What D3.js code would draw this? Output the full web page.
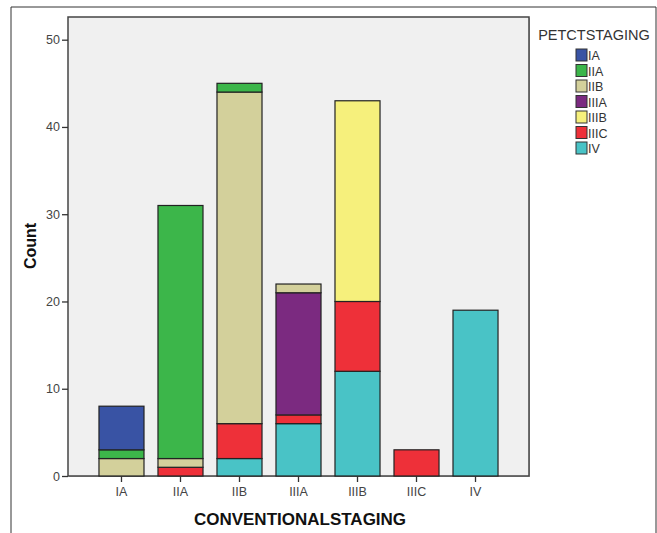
<!DOCTYPE html>
<html><head><meta charset="utf-8">
<script src="https://cdn.jsdelivr.net/npm/d3@7"></script>
<style>body{margin:0;background:#fff}svg{display:block}text{font-family:Arial,"Liberation Sans",sans-serif}</style>
</head><body><svg id="c" width="657" height="533"></svg>
<script>
const categories = ["IA","IIA","IIB","IIIA","IIIB","IIIC","IV"];
const petctLevels = ["IA","IIA","IIB","IIIA","IIIB","IIIC","IV"];
const colors = ["#3953a4","#3cb64a","#d3d09b","#7b2a80","#f6f07c","#ee3039","#49c3c6"];
// counts per conventional stage for each PET-CT stage
const sIA   = [5,0,0,0,0,0,0];
const sIIA  = [1,29,1,0,0,0,0];
const sIIB  = [2,1,38,1,0,0,0];
const sIIIA = [0,0,0,14,0,0,0];
const sIIIB = [0,0,0,0,23,0,0];
const sIIIC = [0,1,4,1,8,3,0];
const sIV   = [0,0,2,6,12,0,19];
const yTicks = [0,10,20,30,40,50];

const seriesVals = {IA:sIA,IIA:sIIA,IIB:sIIB,IIIA:sIIIA,IIIB:sIIIB,IIIC:sIIIC,IV:sIV};
const table = categories.map((c,i)=>{const o={cat:c};petctLevels.forEach(k=>o[k]=seriesVals[k][i]);return o;});
const stackOrder = petctLevels.slice().reverse();
const stacked = d3.stack().keys(stackOrder)(table);
const color = d3.scaleOrdinal().domain(petctLevels).range(colors);

const svg = d3.select("#c");
const L=68,R=529,T=17,B=476;
// outer frame
svg.append("path").attr("d","M11,533V7H656V533").attr("fill","none").attr("stroke","#333").attr("stroke-width",1);

const x = d3.scaleBand().domain(categories).range([L,R]).paddingInner(0.237).paddingOuter(0.525);
const y = d3.scaleLinear().domain([0,52.6]).range([B,T]);

svg.append("rect").attr("x",L+1).attr("y",T+1).attr("width",R-L).attr("height",B-T).attr("fill","#bbb");
svg.append("rect").attr("x",L).attr("y",T).attr("width",R-L).attr("height",B-T).attr("fill","#f0f0f0").attr("stroke","#444").attr("stroke-width",1.5);

const g = svg.append("g");
stacked.forEach(s=>{
  g.selectAll(null).data(s.filter(d=>d[1]-d[0]>0)).enter().append("rect")
    .attr("x",d=>x(d.data.cat)).attr("width",x.bandwidth())
    .attr("y",d=>y(d[1])).attr("height",d=>y(d[0])-y(d[1]))
    .attr("fill",color(s.key)).attr("stroke","#222").attr("stroke-width",1.2);
});

const ya = svg.append("g").attr("transform",`translate(${L},0)`).call(d3.axisLeft(y).tickValues(yTicks).tickSize(6).tickPadding(2));
ya.select(".domain").remove();
ya.selectAll("line").attr("stroke","#333").attr("stroke-width",1.3);
ya.selectAll("text").attr("font-size",12.5).attr("fill","#444");

const xa = svg.append("g").attr("transform",`translate(0,${B})`).call(d3.axisBottom(x).tickSize(6).tickPadding(5));
xa.select(".domain").remove();
xa.selectAll("line").attr("stroke","#333").attr("stroke-width",1.3);
xa.selectAll("text").attr("font-size",12.5).attr("fill","#444");

svg.append("text").attr("transform","translate(36,246) rotate(-90)").attr("text-anchor","middle")
  .attr("font-size",16).attr("font-weight","bold").attr("fill","#111").text("Count");
svg.append("text").attr("x",300).attr("y",525).attr("text-anchor","middle")
  .attr("font-size",17).attr("font-weight","bold").attr("fill","#111").text("CONVENTIONALSTAGING");

const lg = svg.append("g");
lg.append("text").attr("x",594).attr("y",40).attr("text-anchor","middle").attr("font-size",14.5).attr("fill","#333").text("PETCTSTAGING");
petctLevels.forEach((k,i)=>{
  const yy = 49 + i*15.5;
  lg.append("rect").attr("x",576).attr("y",yy).attr("width",11).attr("height",12).attr("fill",color(k)).attr("stroke","#333").attr("stroke-width",1);
  lg.append("text").attr("x",588).attr("y",yy+11).attr("font-size",12.5).attr("fill","#333").text(k);
});
</script></body></html>
